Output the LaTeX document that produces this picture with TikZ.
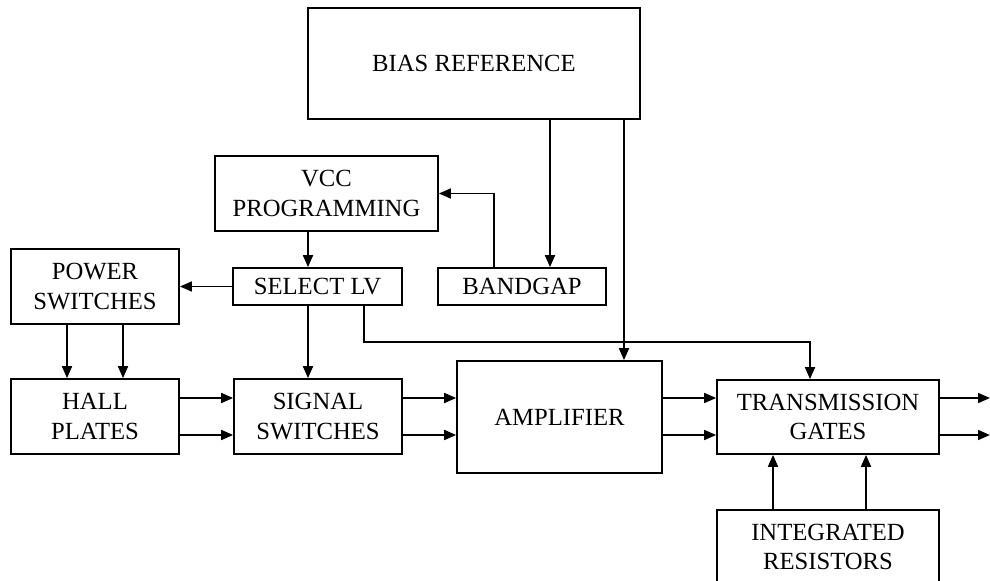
\documentclass[tikz,border=0pt]{standalone}
\usepackage{fontspec}
\setmainfont{Liberation Serif}
\usetikzlibrary{arrows.meta}

\tikzset{
    blk/.style={draw, line width=1.3pt, inner sep=0pt, align=center, font=\fontsize{18.5}{22}\selectfont},
    wire/.style={line width=1.3pt, -{Triangle[length=9pt,width=7.5pt]}}
}

\begin{document}
\begin{tikzpicture}[x=0.75pt, y=-0.75pt]
        \useasboundingbox (0,0) rectangle (990,581);
        \clip (0,0) rectangle (990,581);

        \node[blk, minimum width=332*0.75pt, minimum height=111*0.75pt] (bias) at (474,63.5) {BIAS REFERENCE};
        \node[blk, minimum width=223*0.75pt, minimum height=75*0.75pt] (vcc) at (326.5,193.5) {VCC\\PROGRAMMING};
        \node[blk, minimum width=168*0.75pt, minimum height=75*0.75pt] (pow) at (95,286.5) {POWER\\SWITCHES};
        \node[blk, minimum width=169*0.75pt, minimum height=37*0.75pt] (sel) at (317.5,286.5) {SELECT LV};
        \node[blk, minimum width=168*0.75pt, minimum height=37*0.75pt] (band) at (522,286.5) {BANDGAP};
        \node[blk, minimum width=168*0.75pt, minimum height=75*0.75pt] (hall) at (95,416.5) {HALL\\PLATES};
        \node[blk, minimum width=168*0.75pt, minimum height=75*0.75pt] (sig) at (318,416.5) {SIGNAL\\SWITCHES};
        \node[blk, minimum width=205*0.75pt, minimum height=112*0.75pt] (amp) at (559.5,417) {AMPLIFIER};
        \node[blk, minimum width=222*0.75pt, minimum height=74*0.75pt] (tg) at (828,417) {TRANSMISSION\\GATES};
        \node[blk, minimum width=222*0.75pt, minimum height=74*0.75pt] (res) at (828,547) {INTEGRATED\\RESISTORS};
        \coordinate (out) at (990,0);

        \draw[wire] (bias.south -| 550,0) -- (band.north -| 550,0);
        \draw[wire] (bias.south -| 624,0) -- (amp.north -| 624,0);
        \draw[wire] (band.north -| 494,0) |- (vcc.east);
        \draw[wire] (vcc.south -| 308,0) -- (sel.north -| 308,0);
        \draw[wire] (sel.west) -- (pow.east);
        \draw[wire] (sel.south -| 308,0) -- (sig.north -| 308,0);
        \draw[wire] (sel.south -| 364,0) -- (364,342) -| (tg.north -| 810,0);

        \foreach \x in {67,123} {
            \draw[wire] (pow.south -| \x,0) -- (hall.north -| \x,0);
        }
        \foreach \y in {398,435} {
            \draw[wire] (hall.east |- 0,\y) -- (sig.west |- 0,\y);
            \draw[wire] (sig.east |- 0,\y) -- (amp.west |- 0,\y);
            \draw[wire] (amp.east |- 0,\y) -- (tg.west |- 0,\y);
            \draw[wire] (tg.east |- 0,\y) -- (out |- 0,\y);
        }
        \foreach \x in {773,866} {
            \draw[wire] (res.north -| \x,0) -- (tg.south -| \x,0);
        }
\end{tikzpicture}
\end{document}
